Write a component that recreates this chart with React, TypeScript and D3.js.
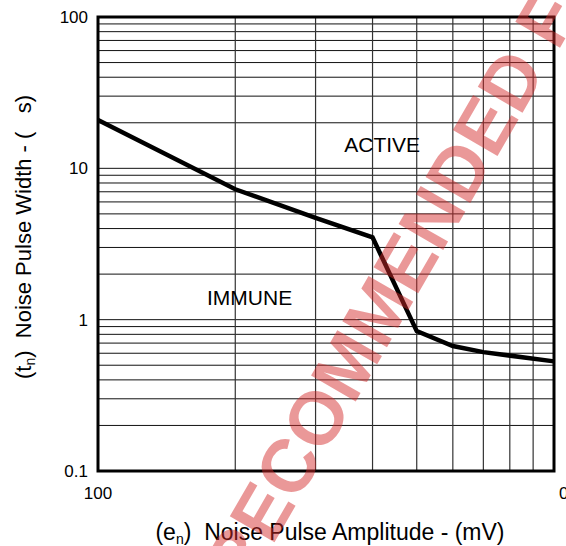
import React from "react";
import * as d3 from "d3";

// noise immunity curve
const amplitude = [100, 200, 300, 400, 500, 600, 700, 1000]; // mV
const pulseWidth = [20.9, 7.27, 4.7, 3.5, 0.84, 0.67, 0.61, 0.53]; // us

const xTickValues = [100, 1000];
const xTickLabels = ["100", "0"];
const yTickValues = [0.1, 1, 10, 100];
const yTickLabels = ["0.1", "1", "10", "100"];

const regionLabels = ["ACTIVE", "IMMUNE"];
const regionX = [420, 215];
const regionY = [14.3, 1.39];

const watermark = "NOT RECOMMENDED FOR NEW DESIGN";

const W = 566;
const H = 546;
const margin = { top: 17, right: 12, bottom: 75, left: 98 };

export default function App() {
  const x = d3
    .scaleLog()
    .domain([100, 1000])
    .range([margin.left, W - margin.right]);
  const y = d3
    .scaleLog()
    .domain([0.1, 100])
    .range([H - margin.bottom, margin.top]);

  // minor grid: 2..9 of each decade
  const xGrid = d3.range(2, 10).map((k) => k * 100);
  const yGrid: number[] = [];
  [0.1, 1, 10].forEach((d) => {
    d3.range(1, 10).forEach((k) => yGrid.push(k * d));
  });

  const line = d3
    .line<number>()
    .x((d) => x(d))
    .y((_, i) => y(pulseWidth[i]));

  const font = "Arial, 'Liberation Sans', sans-serif";
  const [x0, x1] = x.range();
  const [y0, y1] = y.range();

  return (
    <svg
      width={W}
      height={H}
      style={{ position: "absolute", left: 0, top: 0, background: "#fff" }}
      fontFamily={font}
    >
      <g>
        {yGrid.map((v) => (
          <line key={"h" + v} x1={x0} x2={x1} y1={y(v)} y2={y(v)} stroke="#111" strokeWidth={1} />
        ))}
        {xGrid.map((v) => (
          <line key={"v" + v} x1={x(v)} x2={x(v)} y1={y1} y2={y0} stroke="#333" strokeWidth={1.2} />
        ))}
        <rect x={x0} y={y1} width={x1 - x0} height={y0 - y1} fill="none" stroke="#000" strokeWidth={3} />
      </g>

      <path d={line(amplitude) || ""} fill="none" stroke="#000" strokeWidth={4.5} strokeLinejoin="miter" />

      {yTickValues.map((v, i) => (
        <text key={"yt" + v} x={88} y={y(v)} dy="0.35em" textAnchor="end" fontSize={17}>
          {yTickLabels[i]}
        </text>
      ))}
      {xTickValues.map((v, i) => (
        <text
          key={"xt" + v}
          x={i === 0 ? x(v) : x(v) + 5}
          y={499}
          textAnchor={i === 0 ? "middle" : "start"}
          fontSize={17}
        >
          {xTickLabels[i]}
        </text>
      ))}

      {regionLabels.map((t, i) => (
        <text key={t} x={x(regionX[i])} y={y(regionY[i])} dy="0.35em" textAnchor="middle" fontSize={21}>
          {t}
        </text>
      ))}

      <text x={330} y={540} textAnchor="middle" fontSize={23} style={{ whiteSpace: "pre" }}>
        <tspan>(e</tspan>
        <tspan fontSize={14} dy={4}>n</tspan>
        <tspan dy={-4}>{")  Noise Pulse Amplitude - (mV)"}</tspan>
      </text>

      <text
        transform="translate(23,237) rotate(-90)"
        dy="0.35em"
        textAnchor="middle"
        fontSize={22}
        style={{ whiteSpace: "pre" }}
      >
        <tspan>(t</tspan>
        <tspan fontSize={14} dy={4}>n</tspan>
        <tspan dy={-4}>{")  Noise Pulse Width - (   s)"}</tspan>
      </text>

      <text
        transform="translate(132,735) rotate(-60)"
        dy="0.36em"
        fontSize={75}
        fontWeight="bold"
        fill="#d42a2a"
        opacity={0.48}
        style={{ whiteSpace: "pre" }}
      >
        {watermark}
      </text>
    </svg>
  );
}
